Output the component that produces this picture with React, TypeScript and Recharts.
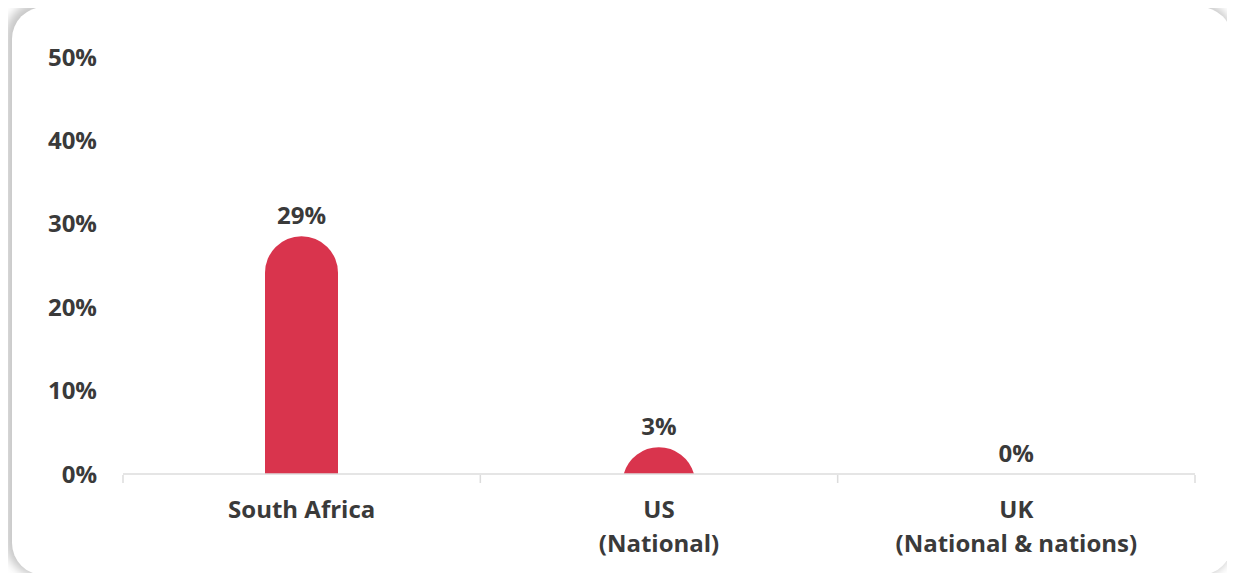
import { BarChart, Bar, XAxis, YAxis, LabelList } from "recharts";

const categories = ["South Africa", "US\n(National)", "UK\n(National & nations)"];
const shares = [28.5, 3.2, 0];
const yTicks = [0, 10, 20, 30, 40, 50];
const edgeTicks = [0, 1, 2, 3];

const data = categories.map((name, i) => ({ name, edge: i + 0.5, value: shares[i] }));

const FONT = "'Open Sans', sans-serif";
const TEXT = "#3a3a3a";
const RED = "#d9344d";

// bar with a full-width round cap, clipped at the baseline when short
function CapBar(props: any) {
  const { x, y, width, height, fill } = props;
  if (!height || height <= 0) return null;
  const r = width / 2;
  const bottom = y + height;
  if (height >= r) {
    const d = `M${x},${bottom} L${x},${y + r} A${r},${r} 0 0 1 ${x + width},${y + r} L${x + width},${bottom} Z`;
    return <path d={d} fill={fill} />;
  }
  const cy = y + r;
  const half = Math.sqrt(r * r - (cy - bottom) * (cy - bottom));
  const cx = x + r;
  const d = `M${cx - half},${bottom} A${r},${r} 0 0 1 ${cx + half},${bottom} Z`;
  return <path d={d} fill={fill} />;
}

function CategoryTick(props: any) {
  const { x, y, payload } = props;
  const lines = String(payload.value).split("\n");
  return (
    <text x={x} y={y} textAnchor="middle" fontFamily={FONT} fontWeight={700} fontSize={24} fill={TEXT}>
      {lines.map((l, i) => (
        <tspan key={i} x={x} dy={i === 0 ? 44 : 34}>
          {l}
        </tspan>
      ))}
    </text>
  );
}

export default function App() {
  return (
    <div style={{ margin: -8, width: 1235, height: 581, background: "#ffffff", position: "relative", overflow: "hidden" }}>
      <div
        style={{
          position: "absolute",
          left: 12,
          top: 7,
          width: 1220,
          height: 568,
          background: "#ffffff",
          borderRadius: 32,
          boxShadow: "-3px -2px 10px 4px rgba(0,0,0,0.22)",
        }}
      />
      <div style={{ position: "absolute", left: 0, top: 0 }}>
        <BarChart width={1235} height={581} data={data} margin={{ top: 57, right: 40, bottom: 0, left: 0 }}>
          <XAxis
            dataKey="name"
            height={1}
            axisLine={{ stroke: "#dcdcdc", strokeWidth: 1.5 }}
            tickLine={false}
            tickSize={0}
            tickMargin={0}
            interval={0}
            tick={<CategoryTick />}
          />
          <XAxis
            xAxisId="edge"
            dataKey="edge"
            type="number"
            domain={[0, 3]}
            ticks={edgeTicks}
            height={106}
            axisLine={false}
            tickFormatter={() => ""}
            tickLine={{ stroke: "#dcdcdc", strokeWidth: 1.5 }}
            tickSize={8}
          />
          <YAxis
            domain={[0, 50]}
            ticks={yTicks}
            width={123}
            axisLine={false}
            tickLine={false}
            tickMargin={20}
            tickFormatter={(v: number) => `${v}%`}
            tick={{ fontFamily: FONT, fontWeight: 700, fontSize: 24, fill: TEXT }}
          />
          <Bar dataKey="value" fill={RED} barSize={73} shape={<CapBar />} isAnimationActive={false}>
            <LabelList
              dataKey="value"
              position="top"
              offset={12}
              formatter={(v: any) => `${Math.round(Number(v))}%`}
              style={{ fontFamily: FONT, fontWeight: 700, fontSize: 24, fill: TEXT }}
            />
          </Bar>
        </BarChart>
      </div>
    </div>
  );
}
